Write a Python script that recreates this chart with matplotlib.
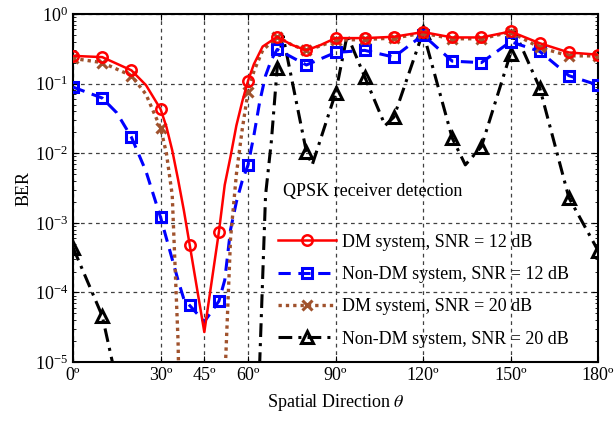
import numpy as np
import matplotlib
matplotlib.use('Agg')
from matplotlib import pyplot as plt

plt.rcParams['font.family'] = ['Liberation Serif', 'DejaVu Serif']
plt.rcParams['mathtext.fontset'] = 'stix'

# DM system, SNR = 12 dB
theta_dm12 = [0, 10, 20, 25, 30, 32, 34, 36, 38, 40, 45, 50, 52, 54, 56, 58, 60, 62, 65, 70,
              75, 80, 85, 90, 100, 110, 120, 130, 140, 150, 160, 170, 180]
ber_dm12 = [0.25, 0.24, 0.155, 0.095, 0.043, 0.024, 0.011, 0.0042, 0.0015, 4.8e-4, 2.7e-5, 7.4e-4,
            3.5e-3, 0.009, 0.025, 0.055, 0.11, 0.19, 0.34, 0.47,
            0.36, 0.30, 0.36, 0.45, 0.45, 0.47, 0.55, 0.46, 0.46, 0.56, 0.38, 0.28, 0.26]

# Non-DM system, SNR = 12 dB
theta_ndm12 = [0, 10, 15, 20, 25, 30, 32, 34, 36, 38, 40, 45, 50, 52, 54, 56, 58, 60, 62, 64, 66, 68,
               70, 80, 90, 100, 110, 120, 130, 140, 150, 160, 170, 180]
ber_ndm12 = [0.089, 0.062, 0.038, 0.017, 0.0055, 1.2e-3, 6e-4, 3e-4, 1.5e-4, 8e-5, 6.5e-5, 3.8e-5,
             7.5e-5, 1.5e-4, 8e-4, 2e-3, 4e-3, 0.0068, 0.018, 0.055, 0.13, 0.22,
             0.31, 0.185, 0.28, 0.30, 0.24, 0.50, 0.21, 0.20, 0.40, 0.29, 0.13, 0.095]

# DM system, SNR = 20 dB
theta_dm20 = [0, 10, 20, 25, 30, 32, 34, 36, 37, 40, 45, 50, 51, 52, 54, 56, 58, 60, 62, 65, 70,
              75, 80, 85, 90, 100, 110, 120, 130, 140, 150, 160, 170, 180]
ber_dm20 = [0.23, 0.20, 0.13, 0.07, 0.023, 0.01, 2.5e-3, 2e-5, 1e-7, 1e-9, 1e-10, 1e-9, 1e-7,
            5e-6, 6e-4, 5e-3, 0.022, 0.076, 0.15, 0.30, 0.47,
            0.36, 0.30, 0.35, 0.42, 0.43, 0.45, 0.53, 0.44, 0.44, 0.55, 0.33, 0.25, 0.25]

# Non-DM system, SNR = 20 dB
theta_ndm20 = [0, 10, 14, 20, 30, 40, 50, 60, 62, 64, 66, 68, 70, 72, 80, 82, 90, 94, 100, 107,
               110, 120, 130, 134.5, 140, 150, 151.5, 160, 170, 180]
ber_ndm20 = [4.4e-4, 4.6e-5, 8e-6, 1e-8, 1e-9, 1e-9, 1e-9, 1e-8, 1e-7, 1e-5, 2.5e-3, 0.015, 0.17,
             0.48, 0.0105, 0.0068, 0.073, 0.50, 0.125, 0.025,
             0.033, 0.55, 0.0165, 0.0068, 0.0124, 0.27, 0.55, 0.087, 0.0023, 4e-4]

xticks = [0, 30, 45, 60, 90, 120, 150, 180]
xticklabels = ['0º', '30º', '45º', '60º', '90º', '120º', '150º', '180º']


def every10(theta):
    return [i for i, t in enumerate(theta) if t % 10 == 0]


fig = plt.figure(figsize=(6.14, 4.23), dpi=100)
ax = fig.add_axes([0.119, 0.144, 0.855, 0.823])

ax.semilogy(theta_dm12, ber_dm12, '-', color='#ff0000', lw=1.8, marker='o', ms=7.5,
            mfc='none', mec='#ff0000', mew=1.8, markevery=every10(theta_dm12),
            label='DM system, SNR = 12 dB', zorder=4)
ax.semilogy(theta_ndm12, ber_ndm12, color='#0000ff', lw=2.2, ls=(0, (4, 2.5)), marker='s', ms=7,
            mfc='none', mec='#0000ff', mew=2.2, markevery=every10(theta_ndm12),
            label='Non-DM system, SNR = 12 dB', zorder=3)
ax.semilogy(theta_dm20, ber_dm20, color='#a0522d', lw=2.4, ls=(0, (1, 1.2)), marker='x', ms=7.5,
            mec='#a0522d', mew=2.2, markevery=every10(theta_dm20),
            label='DM system, SNR = 20 dB', zorder=3)
ax.semilogy(theta_ndm20, ber_ndm20, color='black', lw=2.2, ls=(0, (4.5, 2, 1, 2)), marker='^', ms=8.5,
            mfc='none', mec='black', mew=2.2, markevery=every10(theta_ndm20),
            label='Non-DM system, SNR = 20 dB', zorder=2)

ax.set_xlim(0, 180)
ax.set_ylim(1e-5, 1)
ax.set_xticks(xticks)
ax.set_xticklabels(xticklabels)
ax.set_yticks([1e-5, 1e-4, 1e-3, 1e-2, 1e-1, 1e0])
ax.tick_params(which='both', direction='in', top=True, right=True, labelsize=13)
ax.tick_params(which='major', length=4)
ax.tick_params(which='minor', length=2.5)
ax.grid(True, which='major', color='0.25', ls=(0, (3, 3)), lw=0.9)
for s in ax.spines.values():
    s.set_linewidth(1.5)

ax.set_xlabel(r'Spatial Direction $\theta$', fontsize=13, labelpad=6)
ax.set_ylabel('BER', fontsize=13, labelpad=2)

ax.text(0.40, 0.489, 'QPSK receiver detection', transform=ax.transAxes,
        fontsize=13, va='center', ha='left')
ax.legend(loc='upper left', bbox_to_anchor=(0.39, 0.369), frameon=False, fontsize=13,
          handlelength=3.2, handletextpad=0.35, labelspacing=0.85, borderpad=0, borderaxespad=0)

fig.savefig('out.png', dpi=100)
